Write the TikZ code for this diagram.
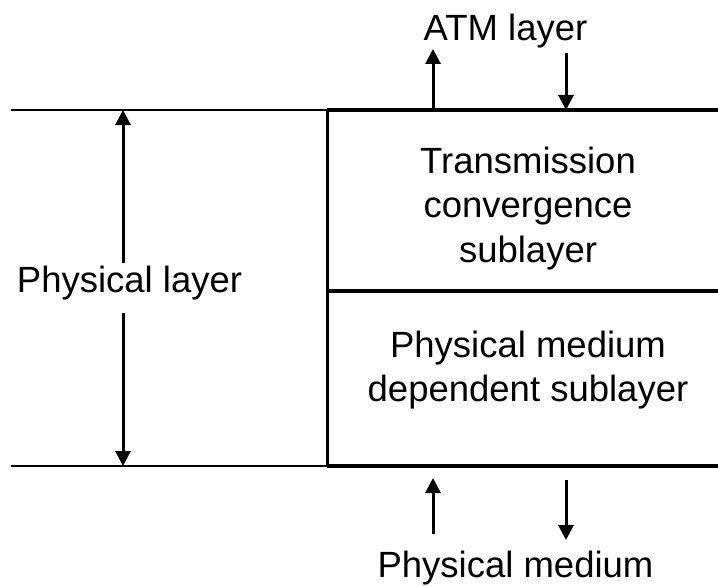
\documentclass[tikz,border=0pt]{standalone}
\usepackage{fontspec}
\setmainfont{Liberation Sans}
\usetikzlibrary{arrows.meta}
\begin{document}
\begin{tikzpicture}[x=1pt,y=-1pt,
  thinline/.style={line width=2pt},
  boxline/.style={line width=4pt},
  flow/.style={line width=3pt,-{Triangle[length=15pt,width=15pt]}},
  lbl/.style={font=\fontsize{36.5}{44.5}\selectfont,inner sep=0pt,align=center}]
\useasboundingbox (0,0) rectangle (718,586);

% layer boundaries
\coordinate (tl) at (11,110);
\coordinate (bl) at (11,466);
\coordinate (tb) at (327,110);
\coordinate (bb) at (327,466);
\coordinate (tr) at (718,110);
\coordinate (br) at (718,466);
\coordinate (ml) at (327,291);
\coordinate (mr) at (718,291);

\draw[thinline] (tl) -- (tb);
\draw[thinline] (bl) -- (bb);
\draw[boxline] (tb) -- (tr);
\draw[boxline] (bb) -- (br);
\draw[boxline] (ml) -- (mr);
\draw[line width=3pt] (tb) -- (bb);

% sublayer labels
\node[lbl] (tc) at (528,208.5) {Transmission\\convergence\\sublayer};
\node[lbl] (pmd) at (528,370) {Physical medium\\dependent sublayer};

% physical layer extent
\node[lbl,anchor=base] (phy) at (129.5,292) {Physical layer};
\coordinate (phytop) at (123,110);
\coordinate (phybot) at (123,466);
\coordinate (phyup) at (123,263);
\coordinate (phydn) at (123,313);
\draw[flow] (phyup) -- (phytop);
\draw[flow] (phydn) -- (phybot);

% interface to the ATM layer
\node[lbl,anchor=base] (atm) at (505.5,41) {ATM layer};
\coordinate (a1s) at (433,108);
\coordinate (a1e) at (433,49);
\coordinate (a2s) at (566,53);
\coordinate (a2e) at (566,110);
\draw[flow] (a1s) -- (a1e);
\draw[flow] (a2s) -- (a2e);

% interface to the physical medium
\node[lbl,anchor=base] (med) at (515.5,577) {Physical medium};
\coordinate (m1s) at (433,534);
\coordinate (m1e) at (433,478);
\coordinate (m2s) at (566,480);
\coordinate (m2e) at (566,540);
\draw[flow] (m1s) -- (m1e);
\draw[flow] (m2s) -- (m2e);
\end{tikzpicture}
\end{document}
